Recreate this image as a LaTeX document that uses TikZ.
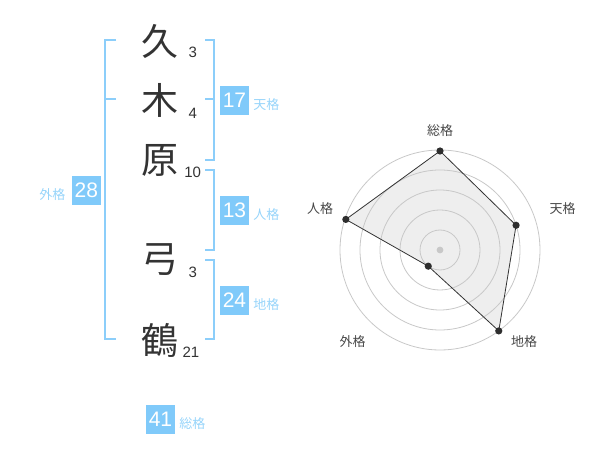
\documentclass[tikz,border=0pt]{standalone}
\usepackage{fontspec}
\setmainfont{Liberation Sans}
\newfontfamily\jpfont{Noto Sans CJK JP}
\usepackage{tikz}
\usetikzlibrary{positioning}

\definecolor{skyline}{RGB}{140,206,250}
\definecolor{skybox}{RGB}{128,202,250}
\definecolor{skytext}{RGB}{150,212,250}
\definecolor{inkgray}{RGB}{51,51,51}
\definecolor{ringgray}{RGB}{200,200,200}
\definecolor{areagray}{RGB}{238,238,238}

\begin{document}
\begin{tikzpicture}[x=1pt,y=-1pt,
	kanji/.style={font=\jpfont\fontsize{37}{37}\selectfont, text=inkgray, inner sep=0pt},
	strokes/.style={font=\fontsize{15}{15}\selectfont, text=inkgray, inner sep=0pt},
	kakubox/.style={fill=skybox, text=white, minimum size=29pt, inner sep=0pt, font=\fontsize{21}{21}\selectfont},
	kakuname/.style={font=\jpfont\fontsize{13}{13}\selectfont, text=skytext, inner sep=0pt},
	bracket/.style={draw=skyline, line width=2pt},
	ring/.style={draw=ringgray, line width=0.8pt},
	axisname/.style={font=\jpfont\fontsize{13}{13}\selectfont, text=inkgray!90, inner sep=0pt}]
	\useasboundingbox (0,0) rectangle (600,470);
	
	% name characters
	\node[kanji] (k1) at (160,41.7) {久};
	\node[kanji] (k2) at (160,100) {木};
	\node[kanji] (k3) at (160,160) {原};
	\node[kanji] (k4) at (160,260) {弓};
	\node[kanji] (k5) at (160,340) {鶴};
	
	\node[strokes] (s1) at (192.7,52.3) {3};
	\node[strokes] (s2) at (192.7,113.3) {4};
	\node[strokes] (s3) at (192.7,172.7) {10};
	\node[strokes] (s4) at (192.7,272.7) {3};
	\node[strokes] (s5) at (191,352.7) {21};
	
	% brackets
	\draw[bracket] (116,40) -- (105,40) -- (105,339.3) -- (116,339.3);
	\draw[bracket] (105,99.3) -- (116,99.3);
	\draw[bracket] (205,40) -- (214.3,40) -- (214.3,160) -- (205,160);
	\draw[bracket] (205,99.3) -- (214.3,99.3);
	\draw[bracket] (205,170) -- (214.3,170) -- (214.3,250) -- (205,250);
	\draw[bracket] (205,260) -- (214.3,260) -- (214.3,339.3) -- (205,339.3);
	
	% totals
	\node[kakubox] (ten) at (234.5,100.5) {17};
	\node[kakuname, right=4pt of ten, yshift=-4pt] (tenname) {天格};
	\node[kakubox] (jin) at (234.5,210.5) {13};
	\node[kakuname, right=4pt of jin, yshift=-4pt] (jinname) {人格};
	\node[kakubox] (chi) at (234.5,300.5) {24};
	\node[kakuname, right=4pt of chi, yshift=-4pt] (chiname) {地格};
	\node[kakubox] (gai) at (86.3,190.5) {28};
	\node[kakuname, left=6pt of gai, yshift=-4pt] (gainame) {外格};
	\node[kakubox] (sou) at (160.5,419.5) {41};
	\node[kakuname, right=4pt of sou, yshift=-4pt] (souname) {総格};
	
	% radar chart
	\begin{scope}[shift={(440,250)}, yscale=-1]
		\coordinate (psou) at (90:99);
		\coordinate (pten) at (18:80);
		\coordinate (pchi) at (-54:100);
		\coordinate (pgai) at (-126:20);
		\coordinate (pjin) at (162:99);
		
		\fill[areagray] (psou) -- (pten) -- (pchi) -- (pgai) -- (pjin) -- cycle;
		\foreach \r in {20,40,...,100}
			\draw[ring] (0,0) circle[radius=\r pt];
		\fill[ringgray] (0,0) circle[radius=3.4pt];
		\draw[inkgray, line width=0.8pt] (psou) -- (pten) -- (pchi) -- (pgai) -- (pjin) -- cycle;
		\foreach \p in {psou,pten,pchi,pgai,pjin}
			\fill[inkgray!90!black] (\p) circle[radius=3.6pt];
		
		\node[axisname] (asou) at (0,119.3) {総格};
		\node[axisname] (aten) at (122.7,41.7) {天格};
		\node[axisname] (achi) at (84,-92) {地格};
		\node[axisname] (agai) at (-87.3,-92) {外格};
		\node[axisname] (ajin) at (-120,41.7) {人格};
	\end{scope}
\end{tikzpicture}
\end{document}
